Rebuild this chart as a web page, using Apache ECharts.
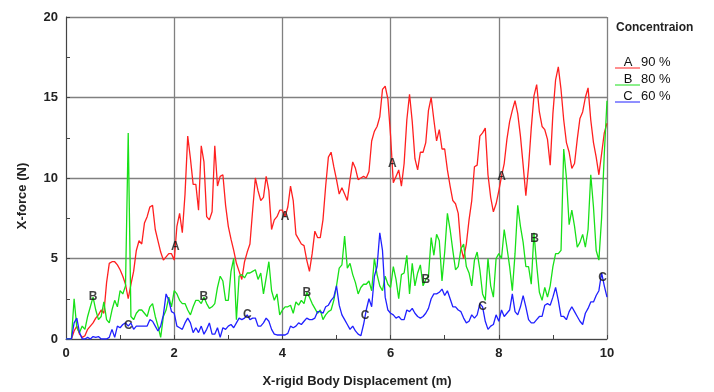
<!DOCTYPE html>
<html>
<head>
<meta charset="utf-8">
<script src="https://cdn.jsdelivr.net/npm/echarts@6/dist/echarts.min.js"></script>
<style>
  html, body { margin: 0; padding: 0; background: #fff; }
  #chart { width: 714px; height: 392px; }
</style>
</head>
<body>
<div id="chart"></div>
<script>
// displacement step (m) between samples
var xStep = 0.05;

// X-force (N), one value per 0.05 m, 0..10 m
var forceA = [
  0, 0, 0, 0.5, 0.8, 0.3, 0.1, 0.2, 0.6, 0.8, 1.0, 1.3, 1.5, 1.8, 1.6, 3.5, 4.7, 4.8, 4.8, 4.6,
  4.3, 3.9, 3.4, 2.5, 3.4, 4.2, 5.5, 6.1, 5.9, 7.2, 7.6, 8.2, 8.3, 6.8, 6.1, 5.4, 4.9, 5.1, 5.3, 5.3,
  4.9, 7.0, 7.8, 6.6, 9.0, 12.6, 11.2, 9.6, 9.6, 8.0, 12.0, 11.0, 7.6, 7.4, 7.9, 12.0, 9.5, 10.1, 10.2, 8.3,
  7.0, 6.2, 5.5, 4.7, 4.2, 3.7, 4.8, 5.4, 5.9, 8.0, 10.0, 9.2, 8.6, 8.8, 10.1, 9.2, 6.8, 7.4, 7.6, 8.0,
  8.0, 7.6, 8.2, 9.5, 8.6, 6.5, 6.2, 5.9, 5.8, 4.9, 4.2, 5.3, 6.7, 6.3, 6.3, 7.4, 9.5, 11.3, 11.6, 10.7,
  9.9, 9.0, 9.4, 9.0, 8.6, 9.9, 11.0, 10.6, 9.9, 10.0, 10.1, 10.0, 10.4, 12.3, 12.9, 13.2, 13.8, 15.5, 15.7, 14.9,
  12.6, 9.7, 10.1, 10.5, 9.5, 10.9, 13.6, 15.2, 13.5, 11.2, 10.5, 11.6, 11.6, 12.2, 14.2, 15.0, 13.6, 12.3, 13.0, 11.8,
  11.8, 10.5, 9.5, 8.6, 8.4, 7.8, 5.7, 5.0, 5.9, 7.4, 8.6, 10.7, 10.8, 12.6, 12.8, 13.1, 10.2, 8.8, 7.9, 8.4,
  9.2, 10.1, 10.9, 12.4, 13.5, 14.2, 14.8, 14.0, 12.6, 10.8, 8.9, 10.7, 13.1, 15.1, 15.8, 14.1, 13.2, 13.0, 12.4, 10.8,
  14.0, 16.1, 16.9, 15.5, 13.6, 12.2, 11.6, 10.6, 10.9, 12.4, 13.7, 14.1, 15.0, 15.6, 13.6, 12.2, 11.3, 10.2, 11.5, 12.8,
  13.4
];
var forceB = [
  0, 0, 0, 2.5, 0.7, 0.4, 0.8, 0.6, 1.4, 2.0, 2.6, 1.8, 1.2, 1.4, 2.3, 1.2, 1.0, 1.8, 2.4, 2.0,
  3.0, 2.8, 3.3, 12.8, 1.4, 1.2, 1.6, 1.8, 1.8, 1.6, 1.4, 2.0, 2.2, 1.4, 0.8, 0.1, 1.4, 1.8, 2.6, 2.0,
  3.0, 2.8, 2.4, 2.2, 2.2, 1.8, 1.5, 2.0, 2.4, 2.4, 2.2, 2.6, 2.2, 1.9, 2.0, 2.2, 3.2, 3.9, 3.6, 2.4,
  2.4, 4.2, 5.0, 1.2, 3.9, 4.0, 3.8, 4.1, 4.1, 4.2, 4.3, 3.7, 4.1, 2.8, 3.8, 4.8, 3.0, 2.4, 2.8, 1.5,
  1.8, 2.0, 2.0, 2.1, 1.6, 2.3, 2.1, 2.4, 2.2, 2.9, 2.6, 2.2, 1.9, 1.6, 1.8, 1.2, 1.5, 1.7, 1.8, 2.4,
  3.3, 4.4, 4.6, 6.4, 4.4, 4.7, 4.0, 3.5, 2.8, 3.2, 3.4, 3.4, 3.6, 3.0, 5.0, 4.0, 3.3, 3.0, 3.9, 3.4,
  3.2, 4.5, 3.7, 2.5, 4.0, 4.1, 5.2, 2.8, 4.7, 3.3, 4.1, 4.6, 3.3, 3.7, 3.9, 6.3, 5.2, 6.5, 6.1, 3.6,
  5.4, 7.8, 6.8, 5.5, 4.3, 4.5, 5.6, 5.9, 4.5, 4.1, 3.3, 4.9, 5.4, 4.3, 2.8, 2.4, 5.0, 3.3, 2.6, 5.0,
  5.3, 5.0, 6.8, 5.7, 4.5, 3.0, 5.3, 8.3, 7.0, 6.0, 4.5, 4.5, 3.4, 6.6, 4.6, 2.9, 2.4, 3.2, 2.6, 3.3,
  4.5, 5.3, 5.3, 5.5, 11.8, 10.0, 7.1, 8.0, 7.0, 5.7, 6.0, 6.5, 5.7, 6.8, 10.2, 8.2, 5.5, 4.9, 7.5, 11.5,
  14.8
];
var forceC = [
  0, 0, 0, 1.0, 1.3, 0.4, 0, 0, 0.1, 0, 0.15, 0.1, 0.15, 0, 0, 0, 0.1, 0.6, 0.1, 0.8,
  0.7, 0.9, 1.0, 0.8, 1.0, 0.6, 0.8, 0.8, 0.8, 0.8, 0.8, 1.2, 1.1, 0.8, 0.5, 0.8, 1.5, 2.8, 2.4, 1.7,
  1.6, 0.8, 0.7, 0.6, 1.0, 1.3, 1.0, 0.4, 0.7, 0.4, 0.8, 0.3, 0.6, 1.0, 0.3, 0.3, 0.7, 0.1, 0.7, 0.6,
  0.8, 0.9, 0.7, 1.0, 1.3, 1.2, 1.3, 1.5, 1.2, 1.3, 1.3, 0.8, 0.8, 1.0, 1.3, 1.1, 0.6, 0.3, 0.25, 0.25,
  0.25, 0.25, 0.35, 0.8, 0.7, 0.8, 1.0, 0.9, 1.1, 1.3, 1.2, 1.2, 1.3, 1.7, 1.7, 1.6, 2.0, 2.1, 2.4, 2.6,
  3.3, 2.1, 1.5, 1.2, 0.9, 0.6, 0.8, 0.5, 0.3, 0.2, 0.9, 1.8, 2.5, 2.0, 3.9, 4.5, 6.6, 5.5, 2.6, 1.8,
  1.6, 1.5, 1.3, 1.4, 1.2, 1.2, 1.8, 1.7, 1.9, 1.6, 1.4, 1.3, 1.4, 1.6, 1.9, 2.5, 2.8, 2.8, 2.9, 3.1,
  2.7, 3.0, 2.5, 2.0, 2.0, 1.8, 1.7, 1.3, 1.0, 1.1, 1.5, 1.3, 1.5, 2.2, 2.0, 1.1, 0.6, 0.8, 0.9, 1.5,
  1.1, 1.8, 1.4, 1.6, 1.8, 2.8, 1.7, 1.5, 2.0, 2.7, 2.0, 1.2, 1.0, 1.0, 1.2, 1.4, 1.4, 2.1, 2.2, 2.1,
  2.6, 3.2, 2.4, 1.4, 1.4, 1.2, 1.7, 2.0, 1.7, 1.4, 1.1, 0.9, 1.6, 1.9, 2.3, 2.3, 2.7, 3.0, 4.1, 3.3,
  2.6
];

// series letters, concentrations, and where the letter tags sit along x
var seriesLetters = ['A', 'B', 'C'];
var concentrations = ['90 %', '80 %', '60 %'];
var tagXA = [2.02, 4.05, 6.03, 8.05];
var tagXB = [0.5, 2.55, 4.45, 6.65, 8.66];
var tagXC = [1.15, 3.35, 5.53, 7.7, 9.92];

var xTicks = [0, 2, 4, 6, 8, 10];
var yTicks = [0, 5, 10, 15, 20];

var colors = ['#ff2020', '#18e018', '#2020ff'];
var font = 'Liberation Sans, Arial, sans-serif';

function toPairs(arr) {
  return arr.map(function (v, i) { return [+(i * xStep).toFixed(2), v]; });
}

// linear read-off of a series at x, so tags sit on their line
function valueAt(arr, x) {
  var p = x / xStep;
  var i = Math.floor(p);
  if (i >= arr.length - 1) return arr[arr.length - 1];
  var t = p - i;
  return arr[i] * (1 - t) + arr[i + 1] * t;
}

var allData = [forceA, forceB, forceC];
var allTags = [tagXA, tagXB, tagXC];

var series = [];
allData.forEach(function (arr, k) {
  series.push({
    name: seriesLetters[k],
    type: 'line',
    data: toPairs(arr),
    showSymbol: false,
    lineStyle: { color: colors[k], width: 1.3 },
    z: 2 + k
  });
});
allData.forEach(function (arr, k) {
  series.push({
    name: seriesLetters[k] + '-tag',
    type: 'scatter',
    symbolSize: 1,
    itemStyle: { color: 'rgba(0,0,0,0)' },
    silent: true,
    z: 10,
    data: allTags[k].map(function (x) { return [x, valueAt(arr, x)]; }),
    label: {
      show: true,
      position: 'inside',
      formatter: seriesLetters[k],
      color: '#111',
      fontSize: 12,
      fontWeight: 'bold',
      fontFamily: font
    }
  });
});

// legend on the right, built from the letter / concentration lists
var graphics = [
  {
    type: 'text', x: 616, y: 28,
    style: { text: 'Concentraion', font: 'bold 12px ' + font, fill: '#222', textVerticalAlign: 'middle', verticalAlign: 'middle' }
  },
  {
    type: 'text', x: 22, y: 196, rotation: Math.PI / 2,
    style: { text: 'X-force (N)', font: 'bold 13px ' + font, fill: '#222', textAlign: 'center', align: 'center', textVerticalAlign: 'middle', verticalAlign: 'middle' }
  },
  {
    type: 'text', x: 357, y: 381,
    style: { text: 'X-rigid Body Displacement (m)', font: 'bold 13px ' + font, fill: '#222', textAlign: 'center', align: 'center', textVerticalAlign: 'middle', verticalAlign: 'middle' }
  }
];
seriesLetters.forEach(function (s, k) {
  var yy = 62 + k * 17;
  graphics.push({
    type: 'text', x: 628, y: yy,
    style: { text: s, font: '13px ' + font, fill: '#111', textAlign: 'center', align: 'center', textVerticalAlign: 'middle', verticalAlign: 'middle' }
  });
  graphics.push({
    type: 'text', x: 641, y: yy,
    style: { text: concentrations[k], font: '13px ' + font, fill: '#111', textVerticalAlign: 'middle', verticalAlign: 'middle' }
  });
  graphics.push({
    type: 'line', shape: { x1: 615, y1: yy + 6, x2: 640, y2: yy + 6 },
    style: { stroke: colors[k], lineWidth: 1 }
  });
});

var chart = echarts.init(document.getElementById('chart'));
chart.setOption({
  animation: false,
  backgroundColor: '#fff',
  grid: { left: 66, right: 107, top: 17, bottom: 53 },
  xAxis: {
    type: 'value',
    min: xTicks[0],
    max: xTicks[xTicks.length - 1],
    interval: xTicks[1] - xTicks[0],
    axisLine: { show: true, onZero: false, lineStyle: { color: '#444', width: 1 } },
    axisTick: { show: true, inside: true, length: 4, lineStyle: { color: '#444' } },
    minorTick: { show: true, splitNumber: 2, length: 4, lineStyle: { color: '#444' } },
    splitLine: { show: true, lineStyle: { color: '#808080', width: 1.3 } },
    axisLabel: { color: '#222', fontSize: 13, fontWeight: 'bold', fontFamily: font, margin: 8 }
  },
  yAxis: {
    type: 'value',
    min: yTicks[0],
    max: yTicks[yTicks.length - 1],
    interval: yTicks[1] - yTicks[0],
    axisLine: { show: true, lineStyle: { color: '#444', width: 1 } },
    axisTick: { show: true, inside: true, length: 4, lineStyle: { color: '#444' } },
    minorTick: { show: true, splitNumber: 2, length: 4, lineStyle: { color: '#444' } },
    splitLine: { show: true, lineStyle: { color: '#808080', width: 1.3 } },
    axisLabel: { color: '#222', fontSize: 13, fontWeight: 'bold', fontFamily: font, margin: 8 }
  },
  graphic: graphics,
  series: series
});
</script>
</body>
</html>
